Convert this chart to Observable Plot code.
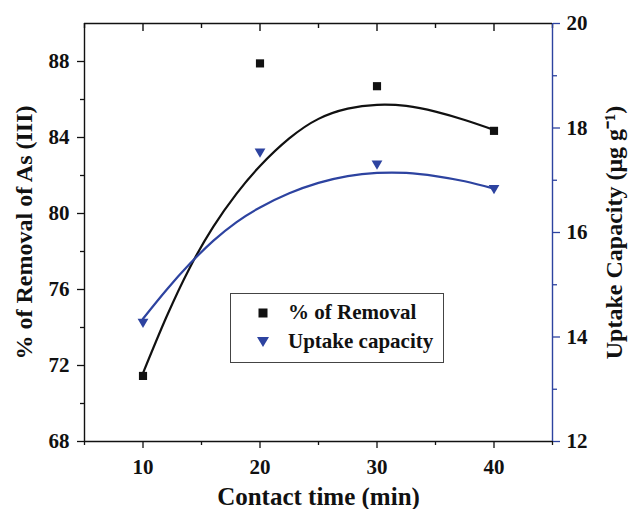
<!DOCTYPE html>
<html><head><meta charset="utf-8">
<script src="https://cdn.jsdelivr.net/npm/d3@7"></script>
<script src="https://cdn.jsdelivr.net/npm/@observablehq/plot@0.6"></script>
<style>
body{margin:0;background:#fff;}
#wrap{position:relative;width:628px;height:509px;}
#legend{position:absolute;left:230px;top:293px;width:214px;height:70px;border:1.4px solid #444;box-sizing:border-box;background:#fff;font-family:Liberation Serif, serif;font-weight:bold;font-size:21px;color:#111;}
#legend svg{position:absolute;}
#legend span{position:absolute;left:57px;line-height:21px;white-space:nowrap;}
</style></head><body><div id="wrap"></div>
<script>
// measured points
const times = [10, 20, 30, 40];
const removal = [71.45, 87.9, 86.7, 84.35];      // % of Removal (left axis)
const uptake = [14.29, 17.55, 17.32, 16.85];     // Uptake capacity (right axis)
// fitted curves
const fitTimes = [10, 12, 14, 16, 18, 20, 22.5, 25, 27.5, 30, 32.5, 35, 37.5, 40];
const removalFit = [71.6, 74.55, 77.15, 79.3, 81.05, 82.5, 83.95, 84.98, 85.52, 85.72, 85.66, 85.36, 84.92, 84.4];
const uptakeFit = [14.35, 14.9, 15.4, 15.84, 16.2, 16.48, 16.75, 16.95, 17.08, 17.14, 17.14, 17.08, 16.98, 16.84];
// axis ticks
const xTicks = [10, 20, 30, 40];
const xMinor = [5, 15, 25, 35, 45];
const yTicks = [68, 72, 76, 80, 84, 88];
const yMinor = [70, 74, 78, 82, 86];
const rTicks = [12, 14, 16, 18, 20];
const rMinor = [13, 15, 17, 19];

const W = 628, H = 509, mT = 23, mB = 68;
const yDomain = [68, 90];
const plotH = H - mT - mB;
const unitsPerPx = (yDomain[1] - yDomain[0]) / plotH;
const blue = "#2d43a0";
const ink = "#111";
const toLeft = d3.scaleLinear([12, 20], yDomain);
const rows = times.map((t, i) => ({t, r: removal[i], u: toLeft(uptake[i])}));
const fitRows = fitTimes.map((t, i) => ({t, r: removalFit[i], u: toLeft(uptakeFit[i])}));
const blank = () => "";
// inward ticks hanging from the top frame edge (length in px converted through the y scale)
const topTicks = (data, len) => Plot.ruleX(data, {x: d => d, y1: yDomain[1], y2: yDomain[1] - len * unitsPerPx, stroke: ink, strokeWidth: 1.4});

const chart = Plot.plot({
  width: W, height: H,
  marginLeft: 84, marginRight: 76, marginTop: mT, marginBottom: mB,
  style: {fontFamily: "Liberation Serif, serif", fontWeight: "bold", fontSize: "21px", background: "#fff", color: ink},
  x: {domain: [5, 45]},
  y: {domain: yDomain},
  marks: [
    Plot.axisX(xTicks, {anchor: "bottom", tickSize: 7, tickPadding: 11, strokeWidth: 1.3, fontSize: 21, label: null}),
    Plot.axisX({anchor: "bottom", ticks: [], label: "Contact time (min)", labelAnchor: "center", labelOffset: 63, labelArrow: "none", fontSize: 25}),
    Plot.axisX(xMinor, {anchor: "bottom", tickSize: 4, strokeWidth: 1.3, tickFormat: blank, label: null}),
    topTicks(xTicks, 8),
    topTicks(xMinor, 5),
    Plot.axisY(yTicks, {anchor: "left", tickSize: 7, tickPadding: 8, strokeWidth: 1.3, fontSize: 21, label: null}),
    Plot.axisY({anchor: "left", ticks: [], label: "% of Removal of As (III)", labelAnchor: "center", labelOffset: 70, labelArrow: "none", fontSize: 24}),
    Plot.axisY(yMinor, {anchor: "left", tickSize: 4, strokeWidth: 1.3, tickFormat: blank, label: null}),
    Plot.axisY(rTicks.map(d => toLeft(d)), {anchor: "right", tickSize: 7, tickPadding: 7, strokeWidth: 1.3, stroke: blue, fill: ink, fontSize: 21, tickFormat: d => String(Math.round(toLeft.invert(d))), label: null}),
    Plot.axisY({anchor: "right", ticks: [], label: "Uptake Capacity (μg g⁻¹)", labelAnchor: "center", labelOffset: 69, labelArrow: "none", fontSize: 24}),
    Plot.axisY(rMinor.map(d => toLeft(d)), {anchor: "right", tickSize: 4, strokeWidth: 1.3, stroke: blue, tickFormat: blank, label: null}),
    Plot.ruleX([5], {stroke: ink, strokeWidth: 1.4}),
    Plot.ruleX([45], {stroke: blue, strokeWidth: 1.4}),
    Plot.ruleY([68], {stroke: ink, strokeWidth: 1.4}),
    Plot.ruleY([90], {stroke: ink, strokeWidth: 1.4}),
    Plot.line(fitRows, {x: "t", y: "r", curve: "natural", stroke: ink, strokeWidth: 2.2}),
    Plot.line(fitRows, {x: "t", y: "u", curve: "natural", stroke: blue, strokeWidth: 2.2}),
    Plot.dot(rows, {x: "t", y: "r", symbol: "square", fill: ink, stroke: "none", r: 4.6}),
    Plot.dot(rows, {x: "t", y: "u", symbol: "triangle", fill: blue, stroke: "none", r: 4.0, rotate: 180})
  ]
});
const wrap = document.getElementById("wrap");
wrap.appendChild(chart);

const legend = document.createElement("div");
legend.id = "legend";
legend.innerHTML = `
  <svg width="12" height="12" style="left:26px;top:13px"><rect x="1.5" y="1.5" width="9" height="9" fill="${ink}"/></svg>
  <span style="top:8px">% of Removal</span>
  <svg width="14" height="12" style="left:25px;top:42px"><path d="M1,1 L13,1 L7,11 Z" fill="${blue}"/></svg>
  <span style="top:37px">Uptake capacity</span>`;
wrap.appendChild(legend);
</script>
</body></html>
